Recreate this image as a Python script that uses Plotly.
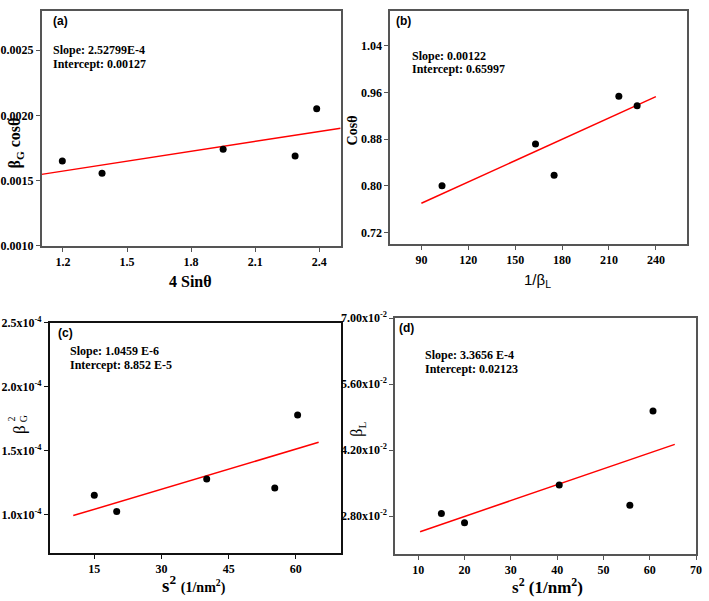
import plotly.graph_objects as go

W, H = 709, 601

# ---------------- data ----------------
# (a) Williamson-Hall type plot
a_x = [1.197, 1.383, 1.950, 2.287, 2.388]
a_y = [0.00165, 0.001557, 0.001741, 0.001689, 0.00205]
a_fit_x = [1.1, 2.5]
a_fit_y = [0.001548, 0.001902]
a_text = ["Slope: 2.52799E-4", "Intercept: 0.00127"]

# (b)
b_x = [103.2, 163.0, 174.9, 216.3, 228.0]
b_y = [0.800, 0.8715, 0.818, 0.9535, 0.9374]
b_fit_x = [90, 240]
b_fit_y = [0.7698, 0.9528]
b_text = ["Slope: 0.00122", "Intercept: 0.65997"]

# (c)
c_x = [15.0, 20.0, 40.1, 55.3, 60.4]
c_y = [1.153e-4, 1.025e-4, 1.28e-4, 1.209e-4, 1.78e-4]
c_fit_x = [10.3, 65.1]
c_fit_y = [0.993e-4, 1.566e-4]
c_text = ["Slope: 1.0459 E-6", "Intercept: 8.852 E-5"]
c_ytickvals = [1.0e-4, 1.5e-4, 2.0e-4, 2.5e-4]
c_yticktext = ["1.0x10<sup>-4</sup>", "1.5x10<sup>-4</sup>", "2.0x10<sup>-4</sup>", "2.5x10<sup>-4</sup>"]

# (d)
d_x = [15.0, 20.0, 40.45, 55.7, 60.7]
d_y = [0.02856, 0.02663, 0.03463, 0.03036, 0.0503]
d_fit_x = [10.4, 65.4]
d_fit_y = [0.02473, 0.04324]
d_text = ["Slope: 3.3656 E-4", "Intercept: 0.02123"]
d_ytickvals = [0.028, 0.042, 0.056, 0.070]
d_yticktext = ["2.80x10<sup>-2</sup>", "4.20x10<sup>-2</sup>", "5.60x10<sup>-2</sup>", "7.00x10<sup>-2</sup>"]

# ---------------- layout helpers ----------------
def px(x):
    return x / W

def py(y):
    return 1 - y / H

SERIF = "Liberation Serif, Times New Roman, Times, serif"
SANS = "Liberation Sans, Arial, sans-serif"

fig = go.Figure()

panels = [
    dict(n="", xs=a_x, ys=a_y, fx=a_fit_x, fy=a_fit_y, box=(41, 343, 3, 244)),
    dict(n="2", xs=b_x, ys=b_y, fx=b_fit_x, fy=b_fit_y, box=(393, 693, 3, 242)),
    dict(n="3", xs=c_x, ys=c_y, fx=c_fit_x, fy=c_fit_y, box=(49, 343, 323, 559)),
    dict(n="4", xs=d_x, ys=d_y, fx=d_fit_x, fy=d_fit_y, box=(398, 702, 318, 560)),
]

for p in panels:
    xa = "x" + p["n"]
    ya = "y" + p["n"]
    fig.add_trace(go.Scatter(x=p["fx"], y=p["fy"], mode="lines",
                             line=dict(color="#ff0000", width=1.5),
                             xaxis=xa, yaxis=ya, showlegend=False, hoverinfo="skip"))
    fig.add_trace(go.Scatter(x=p["xs"], y=p["ys"], mode="markers",
                             marker=dict(color="black", size=7),
                             xaxis=xa, yaxis=ya, showlegend=False))

tickfont = dict(family=SERIF, size=12, color="black", weight="bold")

def axis(domain, rng, frame, anchor, **kw):
    d = dict(domain=domain, range=rng, showgrid=False, zeroline=False,
             showline=True, mirror=True, linecolor=frame, linewidth=1.5,
             ticks="outside", ticklen=4, tickwidth=1.2, tickcolor=frame,
             tickfont=tickfont, anchor=anchor)
    d.update(kw)
    return d

layout = dict(width=W, height=H, margin=dict(l=0, r=0, t=0, b=0),
              paper_bgcolor="white", plot_bgcolor="white", showlegend=False)

# (a)
l, r, t, b = panels[0]["box"]
layout["xaxis"] = axis([px(l), px(r)], [1.1, 2.5], "#555555", "y",
                       tick0=1.2, dtick=0.3, tickformat=".1f")
layout["yaxis"] = axis([py(b), py(t)], [0.0010, 0.0028], "#555555", "x",
                       tick0=0.0010, dtick=0.0005, tickformat=".4f")
# (b)
l, r, t, b = panels[1]["box"]
layout["xaxis2"] = axis([px(l), px(r)], [70, 260], "#555555", "y2",
                        tick0=90, dtick=30)
layout["yaxis2"] = axis([py(b), py(t)], [0.70, 1.10], "#555555", "x2",
                        tick0=0.72, dtick=0.08, tickformat=".2f")
# (c)
l, r, t, b = panels[2]["box"]
layout["xaxis3"] = axis([px(l), px(r)], [5, 70], "#111111", "y3",
                        tick0=15, dtick=15)
layout["yaxis3"] = axis([py(b), py(t)], [0.70e-4, 2.5e-4], "#111111", "x3",
                        tickmode="array", tickvals=c_ytickvals, ticktext=c_yticktext,
                        tickfont=dict(family=SERIF, size=12, color="black", weight="bold"))
# (d)
l, r, t, b = panels[3]["box"]
layout["xaxis4"] = axis([px(l), px(r)], [5, 70], "#555555", "y4",
                        tick0=10, dtick=10)
layout["yaxis4"] = axis([py(b), py(t)], [0.020, 0.070], "#555555", "x4",
                        tickmode="array", tickvals=d_ytickvals, ticktext=d_yticktext,
                        tickfont=dict(family=SERIF, size=12, color="black", weight="bold"))

fig.update_layout(**layout)

ann = []

def text(x, y, s, size=12, family=SERIF, bold=True, xanchor="left", yanchor="middle", angle=0):
    ann.append(dict(x=px(x), y=py(y), xref="paper", yref="paper", text=s,
                    showarrow=False, xanchor=xanchor, yanchor=yanchor, textangle=angle,
                    font=dict(family=family, size=size, color="black",
                              weight="bold" if bold else "normal")))

# panel labels
text(50, 13, "(a)", size=12, family=SANS)
text(397, 13, "(b)", size=12, family=SANS)
text(56, 333, "(c)", size=12, family=SANS)
text(400, 328, "(d)", size=12, family=SANS)

# slope / intercept texts
text(51, 43, a_text[0]); text(51, 57, a_text[1])
text(413, 49, b_text[0]); text(413, 63, b_text[1])
text(68, 352, c_text[0]); text(68, 366, c_text[1])
text(426, 356, d_text[0]); text(426, 370, d_text[1])

# axis titles
text(191, 281, "4 Sinθ", size=16, xanchor="center")
text(15, 138, "β<sub>G</sub> cosθ", size=16, xanchor="center", angle=-90)
text(542, 279, "1/β<sub>L</sub>", size=15, family=SANS, bold=False, xanchor="center")
text(355, 125, "Cosθ", size=14, xanchor="center", angle=-90)
text(195, 591, "s<sup>2</sup> <span style='font-size:14px'>(1/nm<sup>2</sup>)</span>",
     size=19, xanchor="center")
# stacked beta^2_G (rotated)
text(18, 432, "β", size=17, bold=False, xanchor="center", angle=-90)
text(11, 421, "2", size=10, bold=False, xanchor="center", angle=-90)
text(23, 421, "G", size=10, bold=False, xanchor="center", angle=-90)
text(552, 593, "s<sup>2</sup> (1/nm<sup>2</sup>)", size=17, xanchor="center")
text(360, 432, "β<sub>L</sub>", size=16, bold=False, xanchor="center", angle=-90)

fig.update_layout(annotations=ann)

fig.write_html("out.html", config={"displayModeBar": False},
               post_script="document.body.style.margin='0px';")
